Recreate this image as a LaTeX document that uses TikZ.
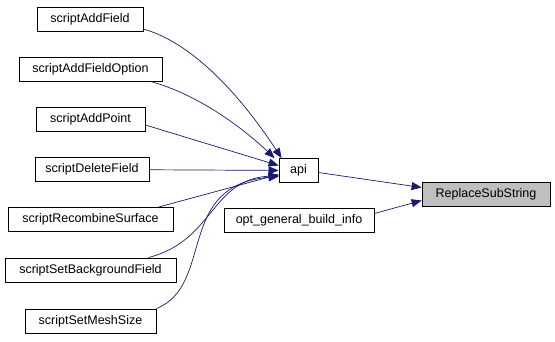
\documentclass[tikz,border=0pt]{standalone}
\usepackage{fontspec}
\setmainfont{Liberation Sans}
\usetikzlibrary{arrows.meta}

\definecolor{edgeblue}{HTML}{191970}

\begin{document}
\begin{tikzpicture}[
  x=1pt, y=1pt,
  every node/.style = {font=\fontsize{12.5}{15}\selectfont, inner sep=0pt},
  fn/.style = {draw, thick, fill=white, minimum height=24pt},
  cur/.style = {fn, fill=black!25},
  call/.style = {edgeblue, line width=0.7pt, -{Triangle[length=10pt,width=8pt]}}
]
\useasboundingbox (0,0) rectangle (555,-341);

% --- callers
\node[fn, minimum width=106pt] (addfield) at (90,-19) {scriptAddField};
\node[fn, minimum width=143pt] (addfieldopt) at (90.5,-69) {scriptAddFieldOption};
\node[fn, minimum width=109pt] (addpoint) at (90.5,-119) {scriptAddPoint};
\node[fn, minimum width=114pt] (deletefield) at (92,-169.5) {scriptDeleteField};
\node[fn, minimum width=165pt] (recombine) at (90.5,-219.5) {scriptRecombineSurface};
\node[fn, minimum width=171pt] (setbg) at (90.5,-270) {scriptSetBackgroundField};
\node[fn, minimum width=131pt] (setmesh) at (90.5,-321) {scriptSetMeshSize};

% --- middle column
\node[fn, minimum width=39pt] (api) at (298.5,-170.5) {api};
\node[fn, minimum width=150pt] (buildinfo) at (299,-220.5) {opt\_general\_build\_info};

% --- function itself
\node[cur, minimum width=128pt] (replace) at (486,-194.5) {ReplaceSubString};

% --- edges
\draw[call] (addfield.east) ++(0,-10) .. controls (200,-45) and (250,-110) .. ([xshift=3pt]api.north west);
\draw[call] (addfieldopt.south east) ++(-12,0) .. controls (200,-95) and (245,-130) .. ([xshift=-4pt]api.north west);
\draw[call] (addpoint.east) ++(0,-6) -- ([yshift=5pt]api.west);
\draw[call] (deletefield) -- (api);
\draw[call] (recombine.north east) ++(-15,0) -- ([yshift=-4pt]api.west);
\draw[call] (setbg.north east) ++(-28,0) .. controls (215,-240) and (210,-180) .. ([yshift=-5pt]api.west);
\draw[call] (setmesh.north east) .. controls (215,-285) and (175,-185) .. ([yshift=-6pt]api.west);
\draw[call] (api.east) ++(0,-2) -- ([yshift=7pt]replace.west);
\draw[call] (buildinfo.east) ++(0,7) -- ([yshift=-6pt]replace.west);

\end{tikzpicture}
\end{document}
